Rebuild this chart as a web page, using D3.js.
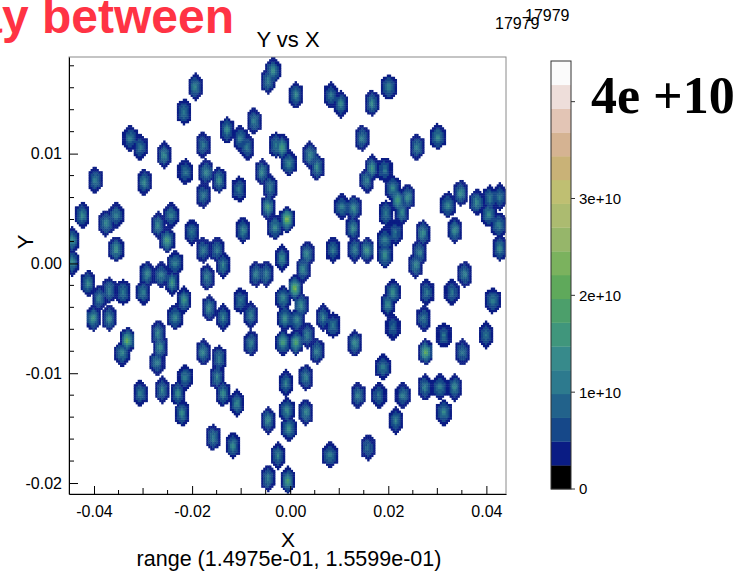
<!DOCTYPE html>
<html>
<head>
<meta charset="utf-8">
<script src="https://cdn.jsdelivr.net/npm/d3@7"></script>
<style>
  html, body { margin: 0; padding: 0; background: #fff; overflow: hidden; }
  svg { display: block; }
</style>
</head>
<body>
<svg id="chart" width="744" height="576"></svg>
<script>
// Spot centres in X and Y, and the peak density of each spot
const spotX = [
  -0.00352, -0.00454, -0.01941, 0.00116, 0.00829, 0.01033, 0.01664, 0.02010, -0.02165, -0.00739,
  -0.03265, -0.03061, -0.02572, -0.01778, -0.01289, -0.01024, -0.00882, -0.00291, -0.00169, 0.00401,
  0.00544, 0.01460, 0.02581, 0.03008, -0.00026, -0.03978, -0.02145, -0.01717, -0.01452, -0.01045,
  -0.00576, -0.00413, -0.00454, -0.00312, -0.00067, -0.02980, -0.01778, 0.01664, 0.01562, 0.01929,
  0.02092, 0.02194, 0.02397, 0.02275, 0.01053, 0.01297, 0.01277, 0.01949, 0.02132, 0.02703,
  0.03477, 0.03212, 0.03354, 0.03803, 0.04067, 0.04047, 0.04271, 0.04251, 0.04271, -0.04242,
  -0.03754, -0.03550, -0.03550, -0.02695, -0.02511, -0.02430, -0.02002, -0.00963, -0.01778, -0.01493,
  -0.04446, -0.04446, -0.02348, -0.00169, 0.00340, 0.00259, 0.00870, 0.01318, 0.01562, 0.01929,
  0.01929, 0.02642, 0.02560, -0.04120, -0.03896, -0.04018, -0.03693, -0.03693, -0.03407, -0.02919,
  -0.03000, -0.02633, -0.02409, -0.02165, -0.01697, -0.01371, -0.00699, -0.00495, -0.01656, -0.01371,
  -0.01024, -0.00800, -0.00800, -0.02348, 0.00096, -0.00149, 0.00218, -0.00108, 0.00136, 0.00340,
  0.00544, 0.00666, 0.00870, 0.02092, 0.01990, 0.02784, 0.03293, 0.03558, 0.04128, 0.02092,
  0.02723, 0.03130, 0.03986, -0.00149, 0.00116, 0.01318, 0.02764, 0.03497, 0.01888, -0.03326,
  -0.03428, -0.02695, -0.02654, -0.02715, -0.01778, -0.01452, -0.01493, -0.01371, -0.02145, -0.02287,
  -0.02206, -0.02613, -0.03061, -0.01086, -0.01574, -0.01167, -0.00454, -0.00088, -0.00067, -0.00026,
  0.00320, 0.00320, -0.00251, 0.00809, 0.01583, -0.00454, -0.00047, 0.02743, 0.03049, 0.03354,
  0.01379, 0.01807, 0.02295, 0.03130, 0.02153
];
const spotY = [
  0.01755, 0.01664, 0.01609, 0.01536, 0.01536, 0.01454, 0.01463, 0.01609, 0.01381, 0.01299,
  0.01144, 0.01062, 0.00989, 0.01080, 0.01217, 0.01144, 0.01062, 0.01080, 0.01062, 0.00989,
  0.00880, 0.01144, 0.01062, 0.01153, 0.00916, 0.00761, 0.00834, 0.00834, 0.00761, 0.00679,
  0.00834, 0.00697, 0.00515, 0.00333, 0.00406, 0.00743, 0.00624, 0.00871, 0.00761, 0.00852,
  0.00688, 0.00579, 0.00606, 0.00469, 0.00515, 0.00506, 0.00324, 0.00460, 0.00287, 0.00278,
  0.00643, 0.00533, 0.00305, 0.00561, 0.00597, 0.00451, 0.00606, 0.00351, 0.00141, 0.00442,
  0.00369, 0.00442, 0.00132, 0.00351, 0.00214, 0.00442, 0.00287, 0.00305, 0.00123, 0.00123,
  0.00214, 0.00014, 0.00005, 0.00050, 0.00087, -0.00050, 0.00123, 0.00132, 0.00123, 0.00214,
  0.00077, 0.00105, -0.00014, -0.00178, -0.00315, -0.00497, -0.00242, -0.00497, -0.00260, -0.00096,
  -0.00260, -0.00105, -0.00169, -0.00333, -0.00123, -0.00014, -0.00096, -0.00096, -0.00406, -0.00488,
  -0.00333, -0.00469, -0.00725, -0.00488, -0.00223, -0.00315, -0.00378, -0.00497, -0.00515, -0.00652,
  -0.00798, -0.00488, -0.00561, -0.00260, -0.00369, -0.00260, -0.00260, -0.00096, -0.00333, -0.00579,
  -0.00497, -0.00652, -0.00652, -0.00716, -0.00716, -0.00725, -0.00807, -0.00807, -0.00944, -0.00697,
  -0.00816, -0.00634, -0.00761, -0.00898, -0.00807, -0.00861, -0.01035, -0.01181, -0.01035, -0.01181,
  -0.01363, -0.01153, -0.01181, -0.01272, -0.01582, -0.01655, -0.01427, -0.01089, -0.01336, -0.01500,
  -0.01035, -0.01354, -0.01746, -0.01746, -0.01673, -0.01955, -0.01974, -0.01126, -0.01126, -0.01126,
  -0.01199, -0.01199, -0.01199, -0.01354, -0.01427
];
const spotPeak = [
  1.7e10, 1.3e10, 1.45e10, 1.45e10, 1.15e10, 1.45e10, 1.45e10, 1.3e10, 1.3e10, 1.3e10,
  1.3e10, 1.15e10, 1.45e10, 1.15e10, 1.45e10, 1.3e10, 1.15e10, 1.3e10, 1.8e10, 1.55e10,
  1.45e10, 1.3e10, 1.3e10, 1.55e10, 1.45e10, 1.3e10, 1.15e10, 1.45e10, 1.55e10, 1.15e10,
  1.45e10, 1.3e10, 1.8e10, 1.55e10, 2.8e10, 1.45e10, 1.15e10, 1.55e10, 1.3e10, 1.15e10,
  1.55e10, 1.9e10, 1.55e10, 1.45e10, 1.3e10, 1.55e10, 1.45e10, 1.3e10, 1.15e10, 1.55e10,
  1.55e10, 1.45e10, 1.55e10, 1.45e10, 1.3e10, 1.55e10, 1.15e10, 1.3e10, 1.55e10, 1.45e10,
  1.45e10, 1.3e10, 1.7e10, 1.45e10, 1.9e10, 1.3e10, 1.15e10, 1.45e10, 1.15e10, 1.15e10,
  1.55e10, 1.55e10, 1.3e10, 1.45e10, 1.45e10, 1.45e10, 1.15e10, 1.3e10, 1.7e10, 1.3e10,
  1.7e10, 1.3e10, 1.45e10, 1.45e10, 1.3e10, 1.7e10, 1.3e10, 1.45e10, 1.3e10, 1.45e10,
  1.3e10, 1.3e10, 1.55e10, 1.7e10, 1.3e10, 1.3e10, 1.3e10, 1.3e10, 1.45e10, 1.3e10,
  1.15e10, 1.3e10, 1.3e10, 1.45e10, 2.6e10, 1.45e10, 1.55e10, 1.7e10, 1.45e10, 1.3e10,
  1.3e10, 1.3e10, 1.15e10, 1.55e10, 1.45e10, 1.15e10, 1.15e10, 1.3e10, 1.3e10, 1.0e10,
  1.15e10, 1.15e10, 1.15e10, 1.9e10, 2.1e10, 1.55e10, 2.3e10, 1.15e10, 1.3e10, 2.3e10,
  1.45e10, 1.45e10, 1.55e10, 1.3e10, 1.45e10, 1.3e10, 1.3e10, 1.45e10, 1.3e10, 1.45e10,
  1.45e10, 1.3e10, 1.3e10, 1.45e10, 1.3e10, 1.45e10, 1.45e10, 1.3e10, 1.55e10, 1.55e10,
  1.3e10, 1.45e10, 1.3e10, 1.3e10, 1.0e10, 1.3e10, 1.9e10, 1.3e10, 1.3e10, 1.45e10,
  1.3e10, 1.15e10, 1.3e10, 1.45e10, 1.3e10
];

// Axis ranges and ticks
const xDomain = [-0.0451, 0.0440];
const yDomain = [-0.0210, 0.0188];
const xTickValues = [-0.04, -0.02, 0.00, 0.02, 0.04];
const yTickValues = [-0.02, -0.01, 0.00, 0.01];
const zMax = 4.42e10;
const zTickValues = [0, 1e10, 2e10, 3e10, 4e10];
const zTickLabels = ["0", "1e+10", "2e+10", "3e+10", ""];

// Colour levels of the palette, lowest first
const paletteColors = [
  "#000000", "#0a1c84", "#164889", "#22628b", "#2d7a8e", "#378a8b",
  "#40967c", "#4c9f6b", "#5fa95b", "#7bb25e", "#96b66a", "#acbb70",
  "#bfbf72", "#c9b277", "#d5b392", "#e3c5b5", "#eededa", "#fbfbfb"
];

const W = 744, H = 576;
const plot = { left: 69, right: 506, top: 57, bottom: 494 };
const font = "'Liberation Sans', Arial, sans-serif";

const svg = d3.select("#chart");

const xs = d3.scaleLinear().domain(xDomain).range([plot.left, plot.right]);
const ys = d3.scaleLinear().domain(yDomain).range([plot.bottom, plot.top]);

// Bin the spots onto a 2D grid
const bx = 0.0004, by = 0.0002;
const nx = Math.ceil((xDomain[1] - xDomain[0]) / bx);
const ny = Math.ceil((yDomain[1] - yDomain[0]) / by);
const grid = new Float64Array(nx * ny);
const rx = 0.00168, ry = 0.00126;   // spot half extents
const base = 0.35e10, gamma = 1.5;
spotX.forEach((sx, k) => {
  const sy = spotY[k], pk = spotPeak[k];
  const i0 = Math.max(0, Math.floor((sx - rx - xDomain[0]) / bx));
  const i1 = Math.min(nx - 1, Math.ceil((sx + rx - xDomain[0]) / bx));
  const j0 = Math.max(0, Math.floor((sy - ry - yDomain[0]) / by));
  const j1 = Math.min(ny - 1, Math.ceil((sy + ry - yDomain[0]) / by));
  for (let i = i0; i <= i1; i++) {
    const cx = xDomain[0] + (i + 0.5) * bx;
    const X = Math.abs(cx - sx) / rx;
    for (let j = j0; j <= j1; j++) {
      const cy = yDomain[0] + (j + 0.5) * by;
      const Y = Math.abs(cy - sy) / ry;
      const h = Math.max(X / 0.866, X / 1.732 + Y);
      if (h < 1) {
        const v = base + (pk - base) * Math.pow(1 - h, gamma);
        const idx = j * nx + i;
        if (v > grid[idx]) grid[idx] = v;
      }
    }
  }
});
const cells = [];
for (let j = 0; j < ny; j++) {
  for (let i = 0; i < nx; i++) {
    const v = grid[j * nx + i];
    if (v > 0) cells.push({ x0: xDomain[0] + i * bx, y0: yDomain[0] + j * by, v });
  }
}
const levelOf = v => Math.max(0, Math.min(paletteColors.length - 1, Math.floor(v / zMax * paletteColors.length)));

svg.append("defs").append("clipPath").attr("id", "plotClip")
  .append("rect")
  .attr("x", plot.left).attr("y", plot.top)
  .attr("width", plot.right - plot.left).attr("height", plot.bottom - plot.top);

svg.append("g").attr("clip-path", "url(#plotClip)")
  .selectAll("rect").data(cells).join("rect")
  .attr("x", d => xs(d.x0))
  .attr("y", d => ys(d.y0 + by))
  .attr("width", d => xs(d.x0 + bx) - xs(d.x0) + 0.4)
  .attr("height", d => ys(d.y0) - ys(d.y0 + by) + 0.4)
  .attr("fill", d => paletteColors[levelOf(d.v)]);

// Frame
svg.append("rect")
  .attr("x", plot.left).attr("y", plot.top)
  .attr("width", plot.right - plot.left).attr("height", plot.bottom - plot.top)
  .attr("fill", "none").attr("stroke", "#8a8a8a").attr("stroke-width", 1);

// X axis, ticks pointing inward
const xAxis = d3.axisBottom(xs).tickValues(xTickValues).tickSizeInner(-8).tickSizeOuter(0)
  .tickPadding(12).tickFormat(d => d.toFixed(2));
const gx = svg.append("g").attr("transform", `translate(0,${plot.bottom})`).call(xAxis);
gx.selectAll("text").attr("font-family", font).attr("font-size", 16).attr("fill", "#000");
gx.select(".domain").attr("stroke", "#000");
const xMinor = d3.range(-0.045, 0.0441, 0.005).filter(v => !xTickValues.some(t => Math.abs(t - v) < 1e-6));
gx.selectAll("line.minor").data(xMinor).join("line").attr("class", "minor")
  .attr("x1", d => xs(d)).attr("x2", d => xs(d))
  .attr("y1", 0).attr("y2", d => (Math.abs(Math.round(d / 0.01) * 0.01 - d) < 1e-6 ? -6 : -4))
  .attr("stroke", "#000");

// Y axis, ticks pointing inward
const yAxis = d3.axisLeft(ys).tickValues(yTickValues).tickSizeInner(-9).tickSizeOuter(0)
  .tickPadding(7).tickFormat(d => d.toFixed(2));
const gy = svg.append("g").attr("transform", `translate(${plot.left},0)`).call(yAxis);
gy.selectAll("text").attr("font-family", font).attr("font-size", 16).attr("fill", "#000");
gy.select(".domain").attr("stroke", "#000");
const yMinor = d3.range(-0.020, 0.0189, 0.002).filter(v => !yTickValues.some(t => Math.abs(t - v) < 1e-6));
gy.selectAll("line.minor").data(yMinor).join("line").attr("class", "minor")
  .attr("x1", 0).attr("x2", 5)
  .attr("y1", d => ys(d)).attr("y2", d => ys(d))
  .attr("stroke", "#000");

// Colour bar
const bar = { left: 551, right: 571, top: 61, bottom: 489 };
const zs = d3.scaleLinear().domain([0, zMax]).range([bar.bottom, bar.top]);
const levelStep = zMax / paletteColors.length;
svg.append("g").selectAll("rect").data(paletteColors).join("rect")
  .attr("x", bar.left)
  .attr("y", (c, i) => zs((i + 1) * levelStep))
  .attr("width", bar.right - bar.left)
  .attr("height", (c, i) => zs(i * levelStep) - zs((i + 1) * levelStep) + 0.3)
  .attr("fill", c => c);
svg.append("rect")
  .attr("x", bar.left).attr("y", bar.top)
  .attr("width", bar.right - bar.left).attr("height", bar.bottom - bar.top)
  .attr("fill", "none").attr("stroke", "#333").attr("stroke-width", 1);
const gz = svg.append("g");
gz.selectAll("line").data(zTickValues).join("line")
  .attr("x1", bar.right).attr("x2", bar.right + 4)
  .attr("y1", d => zs(d)).attr("y2", d => zs(d))
  .attr("stroke", "#333");
gz.selectAll("text").data(zTickValues).join("text")
  .attr("x", bar.right + 8).attr("y", d => zs(d)).attr("dy", "0.36em")
  .attr("font-family", font).attr("font-size", 15).attr("fill", "#000")
  .text((d, i) => zTickLabels[i]);

// Colour bar maximum label
svg.append("text")
  .attr("x", 591).attr("y", 113)
  .attr("font-family", "'Liberation Serif', 'Times New Roman', serif")
  .attr("font-weight", "bold").attr("font-size", 52).attr("fill", "#000")
  .text("4e +10");

// Titles
svg.append("text")
  .attr("x", 288).attr("y", 47).attr("text-anchor", "middle")
  .attr("font-family", font).attr("font-size", 22).attr("fill", "#000")
  .text("Y vs X");
svg.append("text")
  .attr("x", 234).attr("y", 33).attr("text-anchor", "end")
  .attr("font-family", font).attr("font-weight", "bold").attr("font-size", 48)
  .attr("fill", "#ff3344")
  .text("ay between");
svg.append("text")
  .attr("x", 495).attr("y", 29)
  .attr("font-family", font).attr("font-size", 16).attr("fill", "#000")
  .text("17979");
svg.append("text")
  .attr("x", 525).attr("y", 21)
  .attr("font-family", font).attr("font-size", 16).attr("fill", "#000")
  .text("17979");

// Axis titles
svg.append("text")
  .attr("x", 288).attr("y", 547).attr("text-anchor", "middle")
  .attr("font-family", font).attr("font-size", 21).attr("fill", "#000")
  .text("X");
svg.append("text")
  .attr("x", 289).attr("y", 566).attr("text-anchor", "middle")
  .attr("font-family", font).attr("font-size", 21.5).attr("fill", "#000")
  .text("range (1.4975e-01, 1.5599e-01)");
svg.append("text")
  .attr("transform", "translate(33,242) rotate(-90)")
  .attr("text-anchor", "middle")
  .attr("font-family", font).attr("font-size", 22).attr("fill", "#000")
  .text("Y");
</script>
</body>
</html>
